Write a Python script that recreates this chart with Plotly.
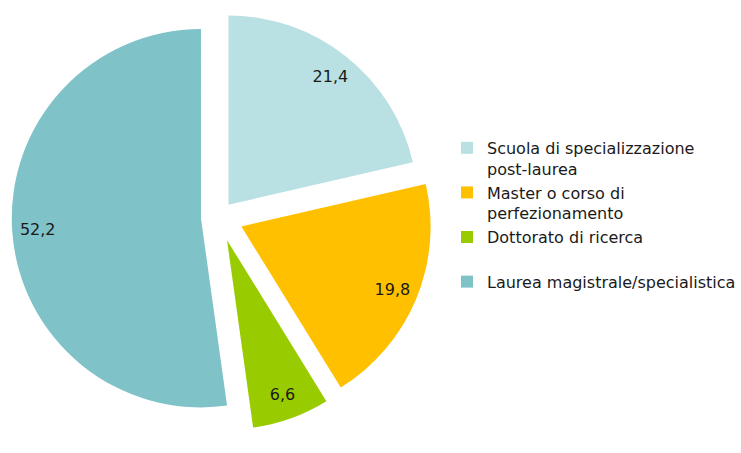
import plotly.graph_objects as go

labels = ["Scuola di specializzazione<br>post-laurea",
          "Master o corso di<br>perfezionamento",
          "Dottorato di ricerca<br> ",
          "Laurea magistrale/specialistica"]
values = [21.4, 19.8, 6.6, 52.2]
colors = ["#B9E0E3", "#FFC000", "#99CC00", "#7FC2C8"]
pulls = [0.083, 0.13, 0.13, 0.094]

W, H = 741, 453
dom = dict(x=[5 / W, 439 / W], y=[1 - 434 / H, 1])
FONT = "DejaVu Sans"

# slices
fig = go.Figure(go.Pie(
    labels=labels, values=values, sort=False, direction="clockwise", rotation=0,
    pull=pulls, marker=dict(colors=colors), textinfo="none",
    domain=dom, hoverinfo="label+value",
))
# value labels placed near the outer rim (transparent ring overlay)
fig.add_trace(go.Pie(
    labels=labels, values=values, sort=False, direction="clockwise", rotation=0,
    pull=pulls, hole=0.73, marker=dict(colors=["rgba(0,0,0,0)"] * len(values)),
    texttemplate="%{value:.1f}", textposition="inside", insidetextorientation="horizontal",
    textfont=dict(family=FONT, size=16, color="#1a1a1a"),
    domain=dom, hoverinfo="skip", showlegend=False,
))
fig.update_layout(
    width=W, height=H, margin=dict(l=0, r=0, t=0, b=0),
    paper_bgcolor="white", plot_bgcolor="white",
    separators=",.",
    uniformtext=dict(minsize=16, mode="show"),
    font=dict(family=FONT, size=16, color="#1a1a1a"),
    legend=dict(x=454 / W, y=0.711, xanchor="left", yanchor="top", valign="top",
                font=dict(family=FONT, size=16, color="#1a1a1a"),
                bgcolor="rgba(0,0,0,0)"),
    showlegend=True,
)
fig.write_html("out.html", config={"displayModeBar": False},
               post_script="document.body.style.margin='0px';")
